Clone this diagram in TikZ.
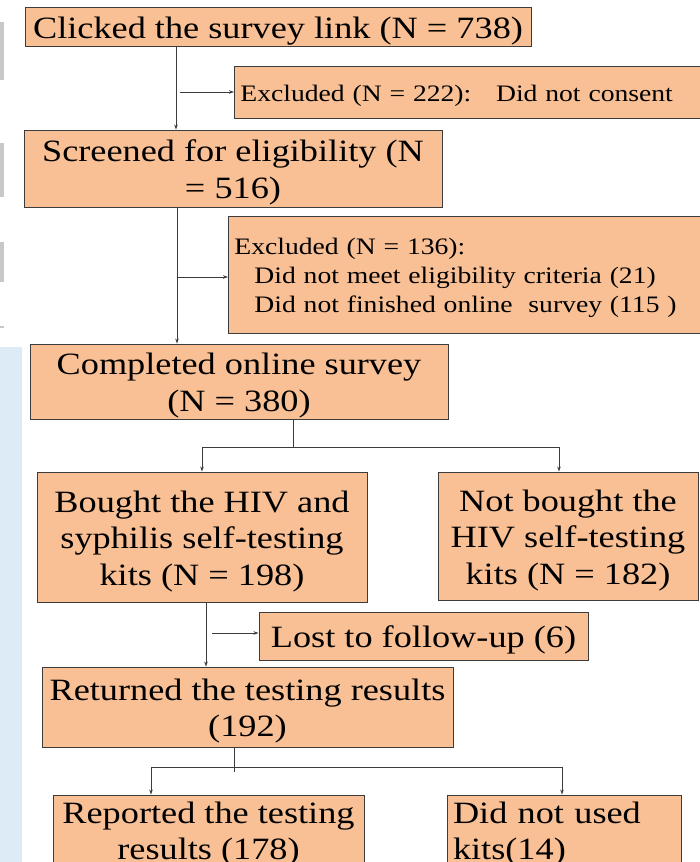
\documentclass[tikz,border=0pt]{standalone}
\usepackage{fontspec}
\setmainfont{Liberation Serif}[FakeStretch=1.17]
\usetikzlibrary{arrows.meta}
\definecolor{boxfill}{RGB}{248,192,148}
\definecolor{boxline}{RGB}{60,60,60}
\definecolor{bandblue}{RGB}{220,235,245}
\definecolor{bargray}{RGB}{200,200,200}
\newcommand{\firststrut}{\rule{0pt}{30pt}}
\tikzset{
  flowbox/.style={draw=boxline, fill=boxfill, line width=0.9pt, inner sep=0pt, align=center,
    font=\fontsize{31}{36.5}\selectfont},
  smallbox/.style={draw=boxline, fill=boxfill, line width=0.9pt, inner xsep=6pt, inner ysep=0pt, align=left,
    font=\fontsize{23.6}{29}\selectfont, execute at begin node={\rule{0pt}{24pt}}},
  conn/.style={draw=boxline, line width=0.8pt},
  arr/.style={conn, -{Stealth[length=5pt,width=3.5pt]}}
}
\begin{document}
\begin{tikzpicture}[x=1pt,y=1pt]
\useasboundingbox (0,0) rectangle (700,-862);
% background artefacts at the left edge
\fill[bandblue] (0,-347) rectangle (22,-862);
\fill[bargray] (0,-22) rectangle (4,-80);
\fill[bargray] (0,-143) rectangle (4,-197);
\fill[bargray] (0,-242) rectangle (4,-282);
\fill[bargray] (0,-326) rectangle (4,-328);

% boxes
\node[flowbox, minimum width=506, minimum height=39] (b1) at (278,-26.5) {\firststrut Clicked the survey link (N = 738)};
\node[smallbox, minimum height=52, text width=459, anchor=west] (b2) at (234,-92) {Excluded (N = 222):\hspace{0.55em} Did not consent};
\node[flowbox, minimum width=418, minimum height=77] (b3) at (233,-168.5) {\firststrut Screened for eligibility (N\\= 516)};
\node[smallbox, minimum height=117, text width=465, anchor=west] (b4) at (228,-274.5) {Excluded (N = 136):\\\hspace*{20pt}Did not meet eligibility criteria (21)\\\hspace*{20pt}Did not finished online\ \ survey (115 )};
\node[flowbox, minimum width=418, minimum height=75] (b5) at (239,-381.5) {\firststrut Completed online survey\\(N = 380)};
\node[flowbox, minimum width=330, minimum height=130] (b6) at (202,-537) {\firststrut Bought the HIV and\\syphilis self-testing\\kits (N = 198)};
\node[flowbox, minimum width=260, minimum height=128] (b7) at (568,-536) {\firststrut Not bought the\\HIV self-testing\\kits (N = 182)};
\node[flowbox, minimum width=329, minimum height=48] (b8) at (423.5,-636) {\firststrut Lost to follow-up (6)};
\node[flowbox, minimum width=411, minimum height=80] (b9) at (247.5,-707) {\firststrut Returned the testing results\\(192)};
\node[flowbox, minimum width=311, minimum height=74] (b10) at (208.5,-832) {\rule{0pt}{26pt}Reported the testing\\results (178)};
\node[flowbox, minimum width=234, minimum height=74, align=left, text width=222, inner xsep=6pt] (b11) at (564,-832) {\rule{0pt}{26pt}Did not used\\kits(14)};

% junction coordinates
\coordinate (j1) at (176,-92);
\coordinate (j2) at (177,-277);
\coordinate (j3) at (293,-447);
\coordinate (j4) at (206,-633);
\coordinate (j5) at (234,-767);
\coordinate (l3) at (202,-447);
\coordinate (r3) at (559,-447);
\coordinate (l5) at (151,-767);
\coordinate (r5) at (562,-767);

% connectors
\draw[arr] (b1.south -| j1) -- (b3.north -| j1);
\draw[arr] ([xshift=4]j1) -- (j1 -| b2.west);
\draw[arr] (b3.south -| j2) -- (b5.north -| j2);
\draw[arr] (j2) -- (j2 -| b4.west);
\draw[conn] (b5.south -| j3) -- (j3);
\draw[conn] (l3) -- (r3);
\draw[arr] (l3) -- (b6.north -| l3);
\draw[arr] (r3) -- (b7.north -| r3);
\draw[arr] (b6.south -| j4) -- (b9.north -| j4);
\draw[arr] ([xshift=6]j4) -- (j4 -| b8.west);
\draw[conn] (b9.south -| j5) -- ([yshift=-5]j5);
\draw[conn] (l5) -- (r5);
\draw[arr] (l5) -- (b10.north -| l5);
\draw[arr] (r5) -- (b11.north -| r5);
\end{tikzpicture}
\end{document}
